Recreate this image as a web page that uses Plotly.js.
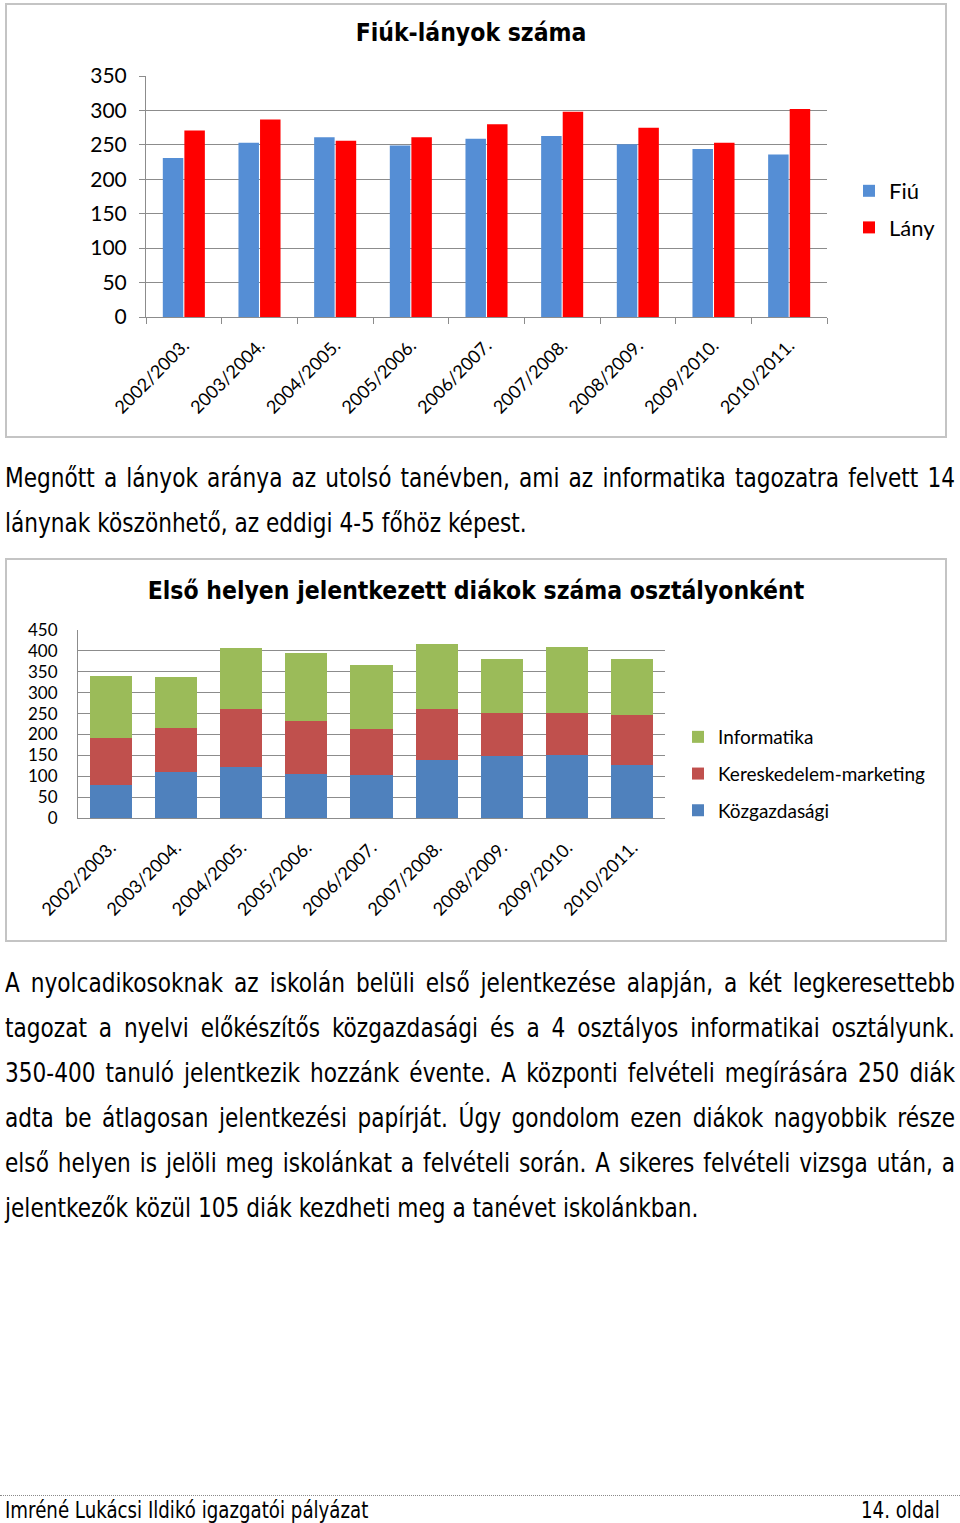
<!DOCTYPE html>
<html><head><meta charset="utf-8">
<script src="https://cdn.plot.ly/plotly-3.0.1.min.js"></script>
<style>
body{margin:0;background:#fff;width:960px;height:1523px;position:relative;overflow:hidden;}
.box{position:absolute;border:2px solid #c4c4c4;box-sizing:border-box;pointer-events:none;}
.plot{position:absolute;left:0;}
.line{position:absolute;left:5px;white-space:nowrap;font-family:"DejaVu Sans Condensed","DejaVu Sans",sans-serif;font-size:27px;line-height:45px;height:45px;color:#000;transform-origin:0 0;}
</style></head><body>
<div id="c1" class="plot" style="top:0"></div>
<div id="c2" class="plot" style="top:555px"></div>
<div class="box" style="left:5px;top:3px;width:942px;height:435px"></div>
<div class="box" style="left:5px;top:558px;width:942px;height:384px"></div>
<div style="position:absolute;left:0;top:1495px;width:960px;border-top:1px dotted #8a8a8a"></div>
<script>
// ---------- data ----------
const years = ['2002/2003.','2003/2004.','2004/2005.','2005/2006.','2006/2007.','2007/2008.','2008/2009.','2009/2010.','2010/2011.'];
const fiu  = [231,253,261,249,259,263,251,244,236];
const lany = [271,287,256,261,280,298,275,253,302];

const kozgazdasagi = [79,111,121,105,102,139,148,151,128];
const kereskedelem = [112,105,140,127,111,121,103,100,119];
const informatika  = [148,122,146,164,154,156,130,158,133];

const title1 = 'Fiúk-lányok száma';
const title2 = 'Első helyen jelentkezett diákok száma osztályonként';

const para1 = [
  'Megnőtt a lányok aránya az utolsó tanévben, ami az informatika tagozatra felvett 14',
  'lánynak köszönhető, az eddigi 4-5 főhöz képest.'
];
const para2 = [
  'A nyolcadikosoknak az iskolán belüli első jelentkezése alapján, a két legkeresettebb',
  'tagozat a nyelvi előkészítős közgazdasági és a 4 osztályos informatikai osztályunk.',
  '350-400 tanuló jelentkezik hozzánk évente. A központi felvételi megírására 250 diák',
  'adta be átlagosan jelentkezési papírját. Úgy gondolom ezen diákok nagyobbik része',
  'első helyen is jelöli meg iskolánkat a felvételi során. A sikeres felvételi vizsga után, a',
  'jelentkezők közül 105 diák kezdheti meg a tanévet iskolánkban.'
];
const footerLeft = 'Imréné Lukácsi Ildikó igazgatói pályázat';
const footerRight = '14. oldal';

// ---------- chart 1 ----------
const chartFont = 'Lato, "Open Sans", sans-serif';
const titleFont = '"DejaVu Sans Condensed","DejaVu Sans",sans-serif';
const gridC = '#8c8c8c';

Plotly.newPlot('c1', [
  {type:'bar', name:'Fiú', x:years, y:fiu, marker:{color:'#558ED5'}, legendgroup:'a'},
  {type:'bar', name:'Lány', x:years, y:lany, marker:{color:'#FF0000'}, legendgroup:'b'}
], {
  width:960, height:445,
  margin:{l:146, r:133, t:76, b:128, pad:0},
  paper_bgcolor:'rgba(0,0,0,0)', plot_bgcolor:'#fff',
  barmode:'group', bargap:0.43, bargroupgap:0.05,
  title:{text:title1, xref:'container', yref:'container', x:471/960, y:1-32/445, xanchor:'center', yanchor:'middle',
         font:{family:titleFont, size:24.5, weight:'bold', color:'#000'}},
  xaxis:{type:'category', tickangle:-45, ticks:'outside', tickson:'boundaries', ticklen:6, tickcolor:gridC,
         ticklabelstandoff:10,
         showline:true, linecolor:gridC, linewidth:1, showgrid:false, tickfont:{family:chartFont, size:18, color:'#000'}},
  yaxis:{range:[0,350], dtick:50, showgrid:true, gridcolor:gridC, gridwidth:1, showline:true, linecolor:gridC,
         ticks:'outside', ticklen:6, tickcolor:gridC, ticklabelstandoff:8, zeroline:false,
         tickfont:{family:chartFont, size:21, color:'#000'}},
  legend:{xref:'container', yref:'container', x:849/960, y:1-170/445, xanchor:'left', yanchor:'top',
          font:{family:chartFont, size:22, color:'#000'}, tracegroupgap:5, traceorder:'grouped', itemwidth:30, bgcolor:'rgba(0,0,0,0)'},
  showlegend:true
}, {staticPlot:true});

// ---------- chart 2 ----------
Plotly.newPlot('c2', [
  {type:'bar', name:'Közgazdasági', x:years, y:kozgazdasagi, marker:{color:'#4F81BD'}, legendgroup:'a', legendrank:3},
  {type:'bar', name:'Kereskedelem-marketing', x:years, y:kereskedelem, marker:{color:'#C0504D'}, legendgroup:'b', legendrank:2},
  {type:'bar', name:'Informatika', x:years, y:informatika, marker:{color:'#9BBB59'}, legendgroup:'c', legendrank:1}
], {
  width:960, height:390,
  margin:{l:78, r:295, t:75, b:127, pad:0},
  paper_bgcolor:'rgba(0,0,0,0)', plot_bgcolor:'#fff',
  barmode:'stack', bargap:0.355,
  title:{text:title2, xref:'container', yref:'container', x:476/960, y:1-35/390, xanchor:'center', yanchor:'middle',
         font:{family:titleFont, size:24.5, weight:'bold', color:'#000'}},
  xaxis:{type:'category', tickangle:-45, ticks:'', showline:true, linecolor:gridC, linewidth:1, showgrid:false,
         ticklabelstandoff:11,
         tickfont:{family:chartFont, size:18, color:'#000'}},
  yaxis:{range:[0,450], dtick:50, showgrid:true, gridcolor:gridC, gridwidth:1, showline:true, linecolor:gridC,
         ticks:'', ticklabelstandoff:16, zeroline:false, tickfont:{family:chartFont, size:17, color:'#000'}},
  legend:{xref:'container', yref:'container', x:678/960, y:1-(718-555)/390, xanchor:'left', yanchor:'top',
          font:{family:chartFont, size:19, color:'#000'}, tracegroupgap:9, traceorder:'grouped', itemwidth:30, bgcolor:'rgba(0,0,0,0)'},
  showlegend:true
}, {staticPlot:true});

// ---------- text ----------
const SX = 0.892;
function addLine(txt, yc, justify, size, rightEdge) {
  const d = document.createElement('div');
  d.className = 'line';
  d.textContent = txt;
  if (size) d.style.fontSize = size + 'px';
  d.style.top = (yc - 22.5) + 'px';
  document.body.appendChild(d);
  const w = d.getBoundingClientRect().width;
  if (justify) {
    const n = (txt.match(/ /g) || []).length;
    d.style.wordSpacing = ((950 / SX - w) / n) + 'px';
  }
  if (rightEdge) d.style.left = (rightEdge - w * SX) + 'px';
  d.style.transform = 'scaleX(' + SX + ')';
}
para1.forEach((t, i) => addLine(t, 477 + 45 * i, i < para1.length - 1));
para2.forEach((t, i) => addLine(t, 982 + 45 * i, i < para2.length - 1));
addLine(footerLeft, 1510, false, 22.7);
addLine(footerRight, 1510, false, 22.7, 940);
</script>
</body></html>
